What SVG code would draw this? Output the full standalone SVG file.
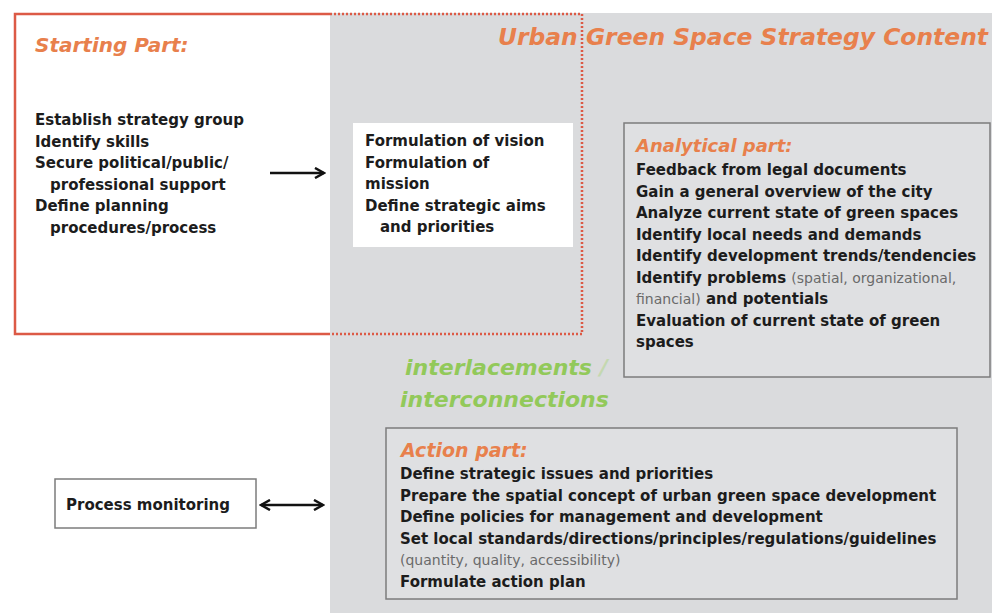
<svg xmlns="http://www.w3.org/2000/svg" width="992" height="613" viewBox="0 0 992 613">
<style>
.body{font-family:"DejaVu Sans",Verdana,sans-serif;font-weight:bold;font-size:15px;fill:#1c1c1c}
.thin{font-weight:normal;fill:#6a6a6a;font-size:14px}
.head{font-family:"DejaVu Sans",Verdana,sans-serif;font-weight:bold;font-style:italic;fill:#e8804c}
.green{font-family:"DejaVu Sans",Verdana,sans-serif;font-weight:bold;font-style:italic;font-size:22px;fill:#92c95a}
.frame{fill:none;stroke:#dc5a46;stroke-width:2.5}
.dots{fill:none;stroke:#dc5a46;stroke-width:2.5;stroke-dasharray:2 2}
.box{stroke:#7c7c7c;stroke-width:1.5}
.arr{stroke:#111;stroke-width:2.5;fill:none}
</style>
<defs>
<marker id="ah" viewBox="0 0 12 12" refX="10" refY="6" markerWidth="12" markerHeight="12" markerUnits="userSpaceOnUse" orient="auto-start-reverse">
<path d="M1,1 L10,6 L1,11" fill="none" stroke="#111" stroke-width="2.5"/>
</marker>
</defs>
<rect x="0" y="0" width="992" height="613" fill="#ffffff"/>
<rect id="content-bg" x="330" y="13" width="662" height="600" fill="#dadbdd"/>

<g id="starting-frame">
<path class="frame" d="M330,14 H15 V334 H330"/>
<path class="dots" d="M330,14 H582 V334 H330"/>
</g>

<g id="title">
<text class="head" x="498" y="45" font-size="23.5" textLength="490" lengthAdjust="spacingAndGlyphs">Urban Green Space Strategy Content</text>
</g>

<g id="starting">
<text class="head" x="35" y="52" font-size="20">Starting Part:</text>
<text class="body" x="35" y="125">Establish strategy group</text>
<text class="body" x="35" y="146.5">Identify skills</text>
<text class="body" x="35" y="168">Secure political/public/</text>
<text class="body" x="50" y="189.5">professional support</text>
<text class="body" x="35" y="211">Define planning</text>
<text class="body" x="50" y="232.5">procedures/process</text>
</g>

<g id="vision">
<rect x="353" y="123" width="220" height="124" fill="#ffffff"/>
<text class="body" x="365" y="146">Formulation of vision</text>
<text class="body" x="365" y="167.5">Formulation of</text>
<text class="body" x="365" y="189">mission</text>
<text class="body" x="365" y="210.5">Define strategic aims</text>
<text class="body" x="380" y="232">and priorities</text>
</g>

<g id="analytical">
<rect class="box" x="624" y="123" width="366" height="254" fill="#dfe0e2"/>
<text class="head" x="636" y="152" font-size="18">Analytical part:</text>
<text class="body" x="636" y="175">Feedback from legal documents</text>
<text class="body" x="636" y="196.5">Gain a general overview of the city</text>
<text class="body" x="636" y="218">Analyze current state of green spaces</text>
<text class="body" x="636" y="239.5">Identify local needs and demands</text>
<text class="body" x="636" y="261">Identify development trends/tendencies</text>
<text class="body" x="636" y="282.5">Identify problems <tspan class="thin">(spatial, organizational,</tspan></text>
<text class="body" x="636" y="304"><tspan class="thin">financial)</tspan> and potentials</text>
<text class="body" x="636" y="325.5">Evaluation of current state of green</text>
<text class="body" x="636" y="347">spaces</text>
</g>

<g id="interlacements">
<text class="green" x="405" y="375">interlacements <tspan fill="#c4d8b0">/</tspan></text>
<text class="green" x="400" y="407">interconnections</text>
</g>

<g id="action">
<rect class="box" x="386" y="428" width="571" height="171" fill="#dfe0e2"/>
<text class="head" x="401" y="457" font-size="19">Action part:</text>
<text class="body" x="400" y="479">Define strategic issues and  priorities</text>
<text class="body" x="400" y="500.5">Prepare the spatial concept of urban green space development</text>
<text class="body" x="400" y="522">Define policies for management and development</text>
<text class="body" x="400" y="543.5">Set local standards/directions/principles/regulations/guidelines</text>
<text class="body thin" x="400" y="565">(quantity, quality, accessibility)</text>
<text class="body" x="400" y="586.5">Formulate action plan</text>
</g>

<g id="monitoring">
<rect class="box" x="55" y="479" width="201" height="49" fill="#ffffff" stroke="#555"/>
<text class="body" x="66" y="510">Process monitoring</text>
</g>

<g id="connectors">
<line class="arr" x1="270" y1="173" x2="324" y2="173" marker-end="url(#ah)"/>
<line class="arr" x1="261" y1="505" x2="323" y2="505" marker-start="url(#ah)" marker-end="url(#ah)"/>
</g>
</svg>
